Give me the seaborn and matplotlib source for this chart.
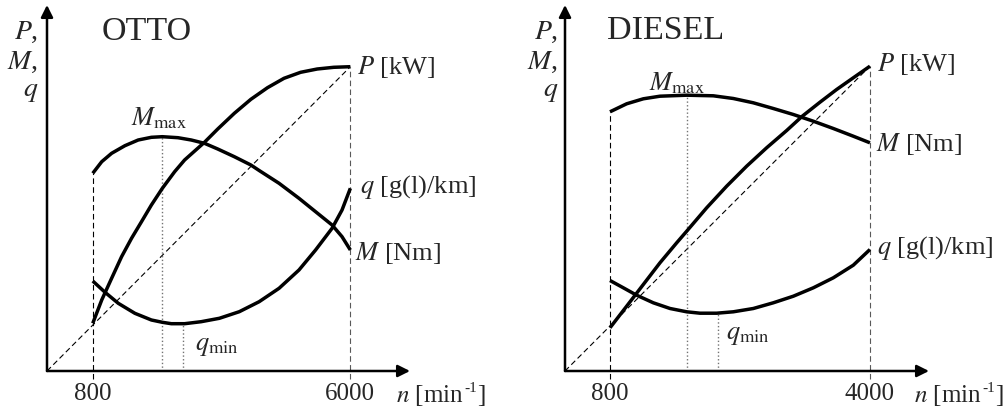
import numpy as np
import pandas as pd
import matplotlib
matplotlib.use("Agg")
import matplotlib.pyplot as plt
import seaborn as sns

# === Data (y in arbitrary units) ===
otto_nP = [800, 981, 1181, 1382, 1583, 1784, 1984, 2205, 2453, 2654, 3055,
           3323, 3658, 3992, 4327, 4661, 4996, 5331, 5665, 6000]
otto_P = [47.7, 71, 92.7, 114.3, 132.7, 149.3, 166, 182.7, 199.3, 211, 228.7,
          242, 257.7, 271.7, 283.3, 292.7, 298.7, 302, 303.7, 304.3]

otto_nM = [800, 981, 1181, 1449, 1717, 1984, 2205, 2520, 2788, 3055, 3323,
           3658, 3992, 4159, 4561, 4963, 5298, 5631, 5832, 6000]
otto_M = [197.7, 209.3, 217.7, 225.3, 231, 233.7, 234.3, 233.3, 231, 227.7, 222,
          214.3, 206, 200.5, 187.7, 172.7, 159.3, 146, 134.3, 121]

otto_nq = [800, 1048, 1315, 1650, 1984, 2205, 2386, 2654, 2988, 3356, 3758,
           4159, 4561, 4963, 5298, 5631, 5832, 6000]
otto_q = [90, 78.7, 67.7, 57.7, 51, 48.7, 47.3, 47.3, 49.3, 52.7, 59.3,
          69.3, 82.7, 101, 121, 142.7, 161, 182.7]

otto_n_Mmax = 2205
otto_n_qmin = 2620

diesel_nP = [800, 1005, 1210, 1415, 1621, 1744, 1990, 2236, 2482, 2728, 2975,
             3167, 3385, 3590, 3795, 4000]
diesel_P = [43.2, 64.8, 86.5, 108.2, 128.2, 139.8, 163.2, 184.8, 204.8, 223.2, 240.5,
            254.8, 268.8, 281.5, 293.2, 304.8]

diesel_nM = [800, 1005, 1210, 1415, 1744, 2072, 2318, 2564, 2810, 3057, 3303,
             3549, 3795, 4000]
diesel_M = [259.2, 267.2, 272.2, 274.8, 275.8, 275.2, 272.5, 268.2, 262.5, 256.5, 249.8,
            242.5, 234.8, 228.2]

diesel_nq = [800, 964, 1128, 1333, 1539, 1744, 1908, 2113, 2318, 2564, 2810,
             3057, 3303, 3549, 3795, 4000]
diesel_q = [90.5, 83.2, 75.8, 68.2, 62.5, 59.2, 57.8, 57.8, 59.2, 62.5, 68.2,
            74.8, 83.2, 93.2, 105.8, 121.5]

diesel_n_Mmax = 1744
diesel_n_qmin = 2125

# === Style ===
sns.set_style("white")
plt.rcParams['font.family'] = ['Liberation Serif', 'DejaVu Serif']
plt.rcParams['mathtext.fontset'] = 'stix'

fig = plt.figure(figsize=(10.08, 4.09), dpi=100)


def curve_at(xs, ys, x):
    return float(np.interp(x, xs, ys))


def draw_panel(ax, title, nP, P, nM, M, nq, q, n_Mmax, n_qmin, xlim, lab):
    ax.set_xlim(*xlim)
    ax.set_ylim(0, 366)
    for s in ax.spines.values():
        s.set_visible(False)

    # axes drawn as arrows
    for tip in [(1, 0), (0, 1)]:
        ax.annotate('', xy=tip, xytext=(0, 0), xycoords='axes fraction',
                    arrowprops=dict(arrowstyle='-|>', lw=1.8, color='k', mutation_scale=18,
                                    shrinkA=0, shrinkB=0))

    n_lo, n_hi = nP[0], nP[-1]
    dash = (0, (5, 3))
    ax.plot([xlim[0], n_hi], [0, P[-1]], ls=dash, lw=0.8, color='k')
    ax.plot([n_lo, n_lo], [-8, max(M[0], P[0], q[0])], ls=dash, lw=0.8, color='k', clip_on=False)
    ax.plot([n_hi, n_hi], [-8, P[-1]], ls=dash, lw=0.8, color='0.35', clip_on=False)
    ax.plot([n_Mmax, n_Mmax], [0, curve_at(nM, M, n_Mmax)], ls=':', lw=1.0, color='0.45')
    ax.plot([n_qmin, n_qmin], [0, curve_at(nq, q, n_qmin)], ls=':', lw=1.0, color='0.45')

    # P, M, q curves
    for xs, ys in [(nP, P), (nM, M), (nq, q)]:
        df = pd.DataFrame({'n': xs, 'v': ys})
        sns.lineplot(data=df, x='n', y='v', ax=ax, color='k', lw=2.5,
                     solid_capstyle='butt', solid_joinstyle='round')

    ax.set_xticks([n_lo, n_hi])
    ax.set_xticklabels([str(n_lo), str(n_hi)], fontsize=18)
    ax.tick_params(axis='x', length=0, pad=9)
    ax.set_yticks([])
    ax.set_xlabel('')
    ax.set_ylabel('')

    fs = 19
    ax.text(*lab['title'], title, fontsize=24.5, ha='left', va='center')
    ax.text(*lab['P'], '$P$ [kW]', fontsize=fs, ha='left', va='center', clip_on=False)
    ax.text(*lab['M'], '$M$ [Nm]', fontsize=fs, ha='left', va='center', clip_on=False)
    ax.text(*lab['q'], '$q$ [g(l)/km]', fontsize=fs, ha='left', va='center', clip_on=False)
    ax.text(*lab['Mmax'], r'$M_{\mathrm{max}}$', fontsize=fs, ha='center', va='center')
    ax.text(*lab['qmin'], r'$q_{\mathrm{min}}$', fontsize=fs, ha='left', va='center')

    # n [min^-1] built from pieces so the superscript uses a plain hyphen
    yb = -31
    t1 = ax.text(lab['n'], yb, '$n$ [min', fontsize=18, ha='left', va='baseline', clip_on=False)
    sup = ax.annotate('-1', xy=(1, yb), xycoords=(t1, 'data'), xytext=(0.3, 7),
                      textcoords='offset points', fontsize=11, ha='left', va='baseline')
    ax.annotate(']', xy=(1, yb), xycoords=(sup, 'data'), xytext=(0.3, 0),
                textcoords='offset points', fontsize=18, ha='left', va='baseline')

    for yy, t in zip([339, 309, 280], ['$P$,', '$M$,', '$q$']):
        ax.text(lab['ylab'], yy, t, fontsize=20, ha='right', va='center', clip_on=False)


ax1 = fig.add_axes([47 / 1008, (409 - 371) / 409, 363 / 1008, 366 / 409])
draw_panel(ax1, 'OTTO', otto_nP, otto_P, otto_nM, otto_M, otto_nq, otto_q,
           otto_n_Mmax, otto_n_qmin, (-123.5, 7204),
           dict(title=(981, 339), P=(6134, 304), M=(6100, 118), q=(6200, 184),
                Mmax=(2138, 253), qmin=(2854, 24), n=6930, ylab=-300))

ax2 = fig.add_axes([565 / 1008, (409 - 371) / 409, 364 / 1008, 366 / 409])
draw_panel(ax2, 'DIESEL', diesel_nP, diesel_P, diesel_nM, diesel_M, diesel_nq, diesel_q,
           diesel_n_Mmax, diesel_n_qmin, (246, 4727),
           dict(title=(767, 340), P=(4082, 307), M=(4070, 227), q=(4091, 123),
                Mmax=(1629, 288), qmin=(2224, 35), n=4545, ylab=160))

fig.savefig('out.png', dpi=100)
